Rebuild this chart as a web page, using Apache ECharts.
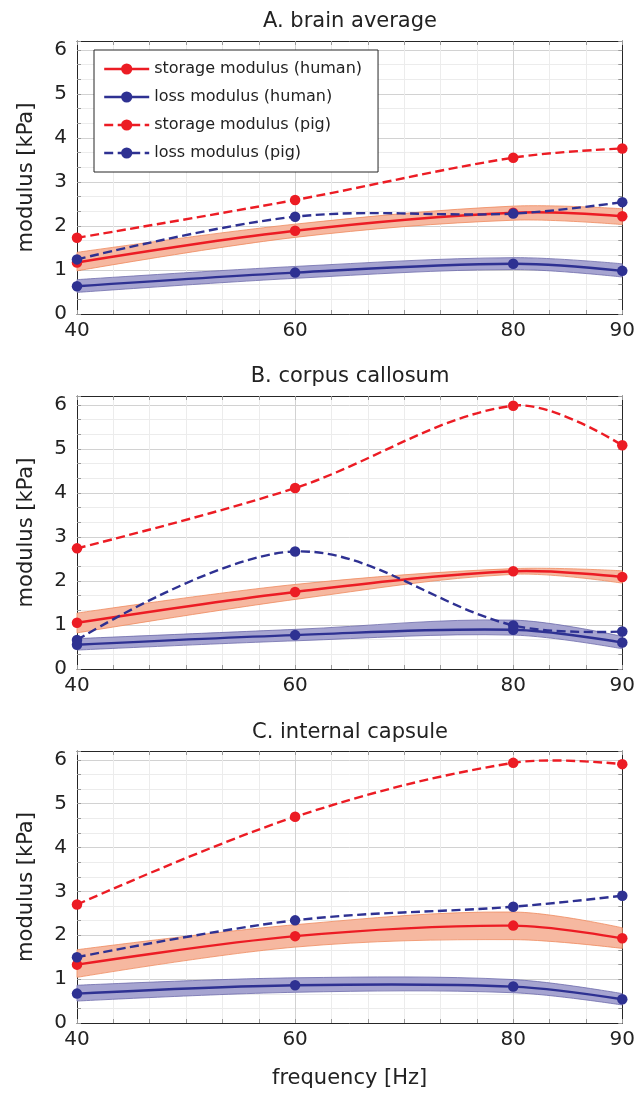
<!DOCTYPE html>
<html><head><meta charset="utf-8">
<script src="https://cdn.jsdelivr.net/npm/echarts@6/dist/echarts.min.js"></script>
<style>html,body{margin:0;padding:0;background:#fff}#c{width:638px;height:1095px}</style>
</head><body><div id="c"></div>
<script>
// ---- data ----
const freq = [40, 60, 80, 90];
const xTickLabels = [40, 60, 80, 90];
const yTickLabels = [0, 1, 2, 3, 4, 5, 6];
const panelTitles = ['A. brain average', 'B. corpus callosum', 'C. internal capsule'];
const seriesNames = ['storage modulus (human)', 'loss modulus (human)', 'storage modulus (pig)', 'loss modulus (pig)'];

// A. brain average
const A_storageHuman     = [1.17, 1.89, 2.30, 2.22];
const A_storageHumanLow  = [0.98, 1.74, 2.13, 2.03];
const A_storageHumanHigh = [1.40, 2.04, 2.45, 2.39];
const A_lossHuman        = [0.63, 0.94, 1.14, 0.98];
const A_lossHumanLow     = [0.49, 0.81, 1.01, 0.84];
const A_lossHumanHigh    = [0.78, 1.08, 1.28, 1.14];
const A_storagePig       = [1.73, 2.59, 3.55, 3.76];
const A_lossPig          = [1.24, 2.21, 2.28, 2.54];

// B. corpus callosum
const B_storageHuman     = [1.05, 1.75, 2.22, 2.09];
const B_storageHumanLow  = [0.82, 1.58, 2.15, 1.95];
const B_storageHumanHigh = [1.27, 1.92, 2.28, 2.23];
const B_lossHuman        = [0.55, 0.77, 0.89, 0.60];
const B_lossHumanLow     = [0.43, 0.64, 0.77, 0.46];
const B_lossHumanHigh    = [0.69, 0.90, 1.11, 0.74];
const B_storagePig       = [2.74, 4.11, 5.98, 5.08];
const B_lossPig          = [0.66, 2.67, 0.99, 0.85];

// C. internal capsule
const C_storageHuman     = [1.33, 1.98, 2.22, 1.93];
const C_storageHumanLow  = [1.04, 1.73, 1.90, 1.70];
const C_storageHumanHigh = [1.67, 2.24, 2.53, 2.17];
const C_lossHuman        = [0.67, 0.86, 0.83, 0.54];
const C_lossHumanLow     = [0.50, 0.70, 0.69, 0.41];
const C_lossHumanHigh    = [0.86, 1.03, 0.99, 0.67];
const C_storagePig       = [2.70, 4.70, 5.93, 5.90];
const C_lossPig          = [1.50, 2.34, 2.65, 2.90];

const panels = [
  {sh: A_storageHuman, shLo: A_storageHumanLow, shHi: A_storageHumanHigh, lh: A_lossHuman, lhLo: A_lossHumanLow, lhHi: A_lossHumanHigh, sp: A_storagePig, lp: A_lossPig},
  {sh: B_storageHuman, shLo: B_storageHumanLow, shHi: B_storageHumanHigh, lh: B_lossHuman, lhLo: B_lossHumanLow, lhHi: B_lossHumanHigh, sp: B_storagePig, lp: B_lossPig},
  {sh: C_storageHuman, shLo: C_storageHumanLow, shHi: C_storageHumanHigh, lh: C_lossHuman, lhLo: C_lossHumanLow, lhHi: C_lossHumanHigh, sp: C_storagePig, lp: C_lossPig}
];

// ---- style ----
const FONT = 'DejaVu Sans';
const TXT = '#222222';
const RED = '#ec1c24';
const BLUE = '#2e3192';
const RED_FILL = '#f6b8a0';
const RED_EDGE = '#ef8a5e';
const BLUE_FILL = '#a6a4d0';
const BLUE_EDGE = '#6d6bab';
const MAJOR = '#d2d2d2';
const MINOR = '#ececec';
const AXIS = '#262626';
const TICK = '#999999';
const SMOOTH = 0.35;
const LINE_W = 2.4;
const DASH = [9, 4.5];

const gridBoxes = [
  {left: 77, top: 41, width: 546, height: 273},
  {left: 77, top: 396, width: 546, height: 273},
  {left: 77, top: 751, width: 546, height: 272}
];
const titleTops = [11, 366, 722];

const X_MIN = 40, X_MAX = 90, X_STEP = 10 / 3;
const Y_MIN = 0, Y_MAX = 6.2, Y_STEP = 1 / 3;

const xGridColors = [];
for (let k = 0; k <= Math.round((X_MAX - X_MIN) / X_STEP); k++) {
  const v = X_MIN + k * X_STEP;
  xGridColors.push(xTickLabels.some(t => Math.abs(t - v) < 1e-6) ? MAJOR : MINOR);
}
const yGridColors = [MAJOR, MINOR, MINOR];

const zip = (ys) => freq.map((x, i) => [x, ys[i]]);
const zip3 = (lo, hi) => freq.map((x, i) => [x, lo[i], hi[i]]);

// cardinal-style bezier control points (pixel space), like a smooth plot without clamping
function controlPoints(pts, smooth) {
  const cps = [];
  const n = pts.length;
  for (let i = 0; i < n; i++) {
    if (i === 0 || i === n - 1) { cps.push(pts[i].slice()); continue; }
    const p = pts[i], a = pts[i - 1], b = pts[i + 1];
    const vx = (b[0] - a[0]) * smooth, vy = (b[1] - a[1]) * smooth;
    let d0 = Math.hypot(p[0] - a[0], p[1] - a[1]);
    let d1 = Math.hypot(p[0] - b[0], p[1] - b[1]);
    const s = d0 + d1;
    if (s) { d0 /= s; d1 /= s; }
    cps.push([p[0] - vx * d0, p[1] - vy * d0]);
    cps.push([p[0] + vx * d1, p[1] + vy * d1]);
  }
  return cps;
}
const f = (q) => q[0].toFixed(2) + ' ' + q[1].toFixed(2);
function forwardPath(pts, cps) {
  let d = '';
  for (let i = 0; i < pts.length - 1; i++) d += ' C ' + f(cps[2 * i]) + ' ' + f(cps[2 * i + 1]) + ' ' + f(pts[i + 1]);
  return d;
}
function backwardPath(pts, cps) {
  let d = '';
  for (let i = pts.length - 2; i >= 0; i--) d += ' C ' + f(cps[2 * i + 1]) + ' ' + f(cps[2 * i]) + ' ' + f(pts[i]);
  return d;
}

function curveRenderer(color, width, dash) {
  return function (params, api) {
    if (params.dataIndexInside !== 0) return null;
    const n = params.dataInsideLength;
    const pts = [];
    for (let k = 0; k < n; k++) pts.push(api.coord([api.value(0, k), api.value(1, k)]));
    const cps = controlPoints(pts, SMOOTH);
    return {
      type: 'path', silent: true,
      shape: {pathData: 'M ' + f(pts[0]) + forwardPath(pts, cps)},
      style: {fill: 'none', stroke: color, lineWidth: width, lineDash: dash || null}
    };
  };
}
function bandRenderer(fill, edge) {
  return function (params, api) {
    if (params.dataIndexInside !== 0) return null;
    const n = params.dataInsideLength;
    const lo = [], hi = [];
    for (let k = 0; k < n; k++) {
      lo.push(api.coord([api.value(0, k), api.value(1, k)]));
      hi.push(api.coord([api.value(0, k), api.value(2, k)]));
    }
    const cHi = controlPoints(hi, SMOOTH), cLo = controlPoints(lo, SMOOTH);
    const d = 'M ' + f(hi[0]) + forwardPath(hi, cHi) + ' L ' + f(lo[n - 1]) + backwardPath(lo, cLo) + ' Z';
    return {
      type: 'path', silent: true,
      shape: {pathData: d},
      style: {fill, stroke: edge, lineWidth: 0.8}
    };
  };
}

const xAxes = [], yAxes = [], series = [], titles = [];
panels.forEach((p, i) => {
  titles.push({
    text: panelTitles[i], left: 350, top: titleTops[i], textAlign: 'center', padding: 0,
    textStyle: {fontFamily: FONT, fontSize: 21, fontWeight: 'normal', color: TXT}
  });
  xAxes.push({
    type: 'value', gridIndex: i, min: X_MIN, max: X_MAX, interval: X_STEP, position: 'bottom',
    axisLine: {show: true, onZero: false, lineStyle: {color: AXIS, width: 1}},
    axisTick: {show: true, inside: true, length: 4, lineStyle: {color: TICK}},
    axisLabel: {show: true, customValues: xTickLabels, margin: 7, fontFamily: FONT, fontSize: 20, color: TXT,
      formatter: v => String(Math.round(v))},
    splitLine: {show: true, lineStyle: {color: xGridColors, width: 1}},
    name: i === 2 ? 'frequency [Hz]' : '', nameLocation: 'middle', nameGap: 45,
    nameTextStyle: {fontFamily: FONT, fontSize: 21, color: TXT}
  });
  xAxes.push({
    type: 'value', gridIndex: i, min: X_MIN, max: X_MAX, interval: X_STEP, position: 'top',
    axisLine: {show: true, onZero: false, lineStyle: {color: AXIS, width: 1}},
    axisTick: {show: true, inside: true, length: 4, lineStyle: {color: TICK}},
    axisLabel: {show: false}, splitLine: {show: false}
  });
  yAxes.push({
    type: 'value', gridIndex: i, min: Y_MIN, max: Y_MAX, interval: Y_STEP, position: 'left',
    axisLine: {show: true, onZero: false, lineStyle: {color: AXIS, width: 1}},
    axisTick: {show: true, inside: true, length: 4, lineStyle: {color: TICK}},
    axisLabel: {show: true, customValues: yTickLabels, margin: 10, fontFamily: FONT, fontSize: 20, color: TXT,
      formatter: v => String(Math.round(v))},
    splitLine: {show: true, lineStyle: {color: yGridColors, width: 1}},
    name: 'modulus [kPa]', nameLocation: 'middle', nameGap: 40,
    nameTextStyle: {fontFamily: FONT, fontSize: 21, color: TXT}
  });
  yAxes.push({
    type: 'value', gridIndex: i, min: Y_MIN, max: Y_MAX, interval: Y_STEP, position: 'right',
    axisLine: {show: true, onZero: false, lineStyle: {color: AXIS, width: 1}},
    axisTick: {show: true, inside: true, length: 4, lineStyle: {color: TICK}},
    axisLabel: {show: false}, splitLine: {show: false}
  });

  const xi = 2 * i, yi = 2 * i;
  const band = (lo, hi, fill, edge) => {
    series.push({
      type: 'custom', xAxisIndex: xi, yAxisIndex: yi, data: zip3(lo, hi),
      encode: {x: 0, y: [1, 2]}, renderItem: bandRenderer(fill, edge), silent: true, z: 1
    });
  };
  band(p.shLo, p.shHi, RED_FILL, RED_EDGE);
  band(p.lhLo, p.lhHi, BLUE_FILL, BLUE_EDGE);

  const line = (name, ys, color, dashed, z) => {
    // the curve itself
    series.push({
      type: 'custom', xAxisIndex: xi, yAxisIndex: yi, data: zip(ys), encode: {x: 0, y: 1},
      renderItem: curveRenderer(color, LINE_W, dashed ? DASH : null), silent: true, z
    });
    // the markers (and legend entry)
    series.push({
      name, type: 'line', xAxisIndex: xi, yAxisIndex: yi, data: zip(ys),
      symbol: 'circle', symbolSize: 10.5, showSymbol: true,
      itemStyle: {color}, lineStyle: {color, width: 0, type: dashed ? DASH : 'solid'}, z: z + 1
    });
  };
  line(seriesNames[0], p.sh, RED, false, 3);
  line(seriesNames[1], p.lh, BLUE, false, 3);
  line(seriesNames[2], p.sp, RED, true, 5);
  line(seriesNames[3], p.lp, BLUE, true, 5);
});

const chart = echarts.init(document.getElementById('c'), null, {renderer: 'canvas'});
chart.setOption({
  animation: false,
  backgroundColor: '#ffffff',
  title: titles,
  grid: gridBoxes,
  xAxis: xAxes,
  yAxis: yAxes,
  legend: {
    data: seriesNames, orient: 'vertical', left: 94, top: 50,
    backgroundColor: '#ffffff', borderColor: AXIS, borderWidth: 1, borderRadius: 0,
    padding: [11, 16, 11, 9], itemWidth: 45, itemHeight: 14, itemGap: 12,
    lineStyle: {width: LINE_W, opacity: 1},
    textStyle: {fontFamily: FONT, fontSize: 16, color: TXT, lineHeight: 16}, z: 10
  },
  series
});
</script>
</body></html>
